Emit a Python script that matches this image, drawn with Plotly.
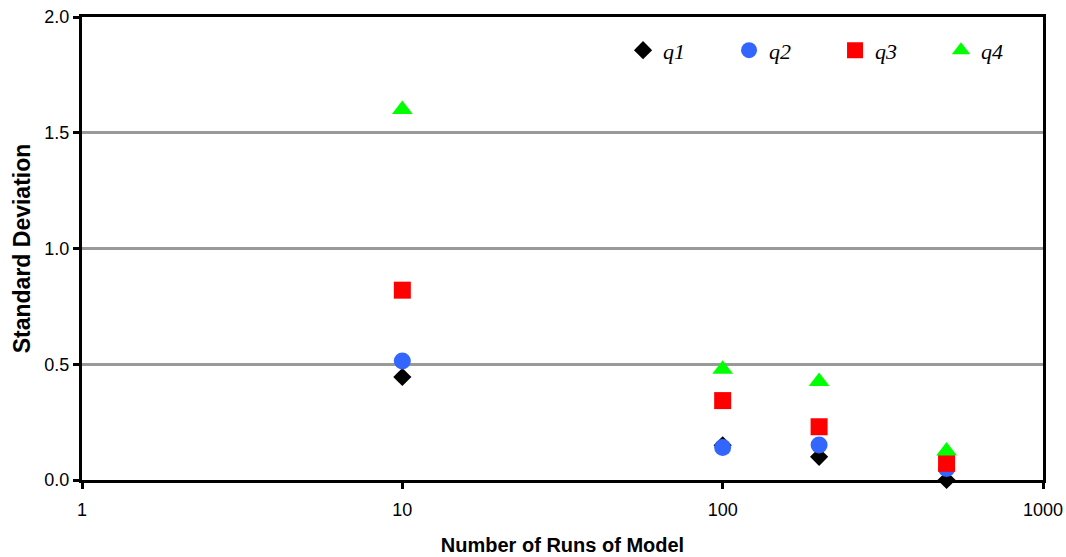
import plotly.graph_objects as go

runs = [10, 100, 200, 500]
q1 = [0.445, 0.15, 0.10, 0.0]
q2 = [0.514, 0.14, 0.151, 0.05]
q3 = [0.82, 0.343, 0.23, 0.072]
q4 = [1.60, 0.478, 0.425, 0.125]

names = ["q1", "q2", "q3", "q4"]
symbols = ["diamond", "circle", "square", "triangle-up"]
colors = ["#000000", "#3366FF", "#FF0000", "#00FF00"]
sizes = [14, 17, 17, 18]
series = [q1, q2, q3, q4]

fig = go.Figure()
for n, s, c, sz, ys in zip(names, symbols, colors, sizes, series):
    fig.add_trace(go.Scatter(
        x=runs, y=ys, mode="markers", name=n,
        marker=dict(symbol=s, color=c, size=sz, line=dict(width=0)),
        cliponaxis=False,
    ))

fig.update_layout(
    width=1066, height=557,
    margin=dict(l=82, r=23, t=17, b=77, autoexpand=False),
    paper_bgcolor="white", plot_bgcolor="white",
    font=dict(family="Liberation Sans, Arial", color="black"),
    legend=dict(
        orientation="h", x=0.563, y=0.928, xanchor="left", yanchor="middle",
        font=dict(family="Liberation Serif", size=22, style="italic"),
        entrywidth=61, entrywidthmode="pixels",
        bgcolor="rgba(0,0,0,0)", itemsizing="trace",
    ),
    xaxis=dict(
        type="log", range=[0, 3],
        tickvals=[1, 10, 100, 1000], ticktext=["1", "10", "100", "1000"],
        showgrid=False, zeroline=False,
        showline=True, linecolor="black", linewidth=3, mirror=True,
        ticks="outside", ticklen=6, tickwidth=3, tickcolor="black",
        tickfont=dict(size=18), ticklabelstandoff=5,
        title=dict(text="<b>Number of Runs of Model</b>", font=dict(size=20), standoff=20),
    ),
    yaxis=dict(
        range=[0, 2], tickvals=[0, 0.5, 1.0, 1.5, 2.0], tickformat=".1f",
        showgrid=True, gridcolor="#999999", gridwidth=3, zeroline=False,
        showline=True, linecolor="black", linewidth=3, mirror=True,
        ticks="outside", ticklen=6, tickwidth=3, tickcolor="black",
        tickfont=dict(size=18),
        title=dict(text="<b>Standard Deviation</b>", font=dict(size=23), standoff=8),
    ),
)

fig.write_html("out.html")
